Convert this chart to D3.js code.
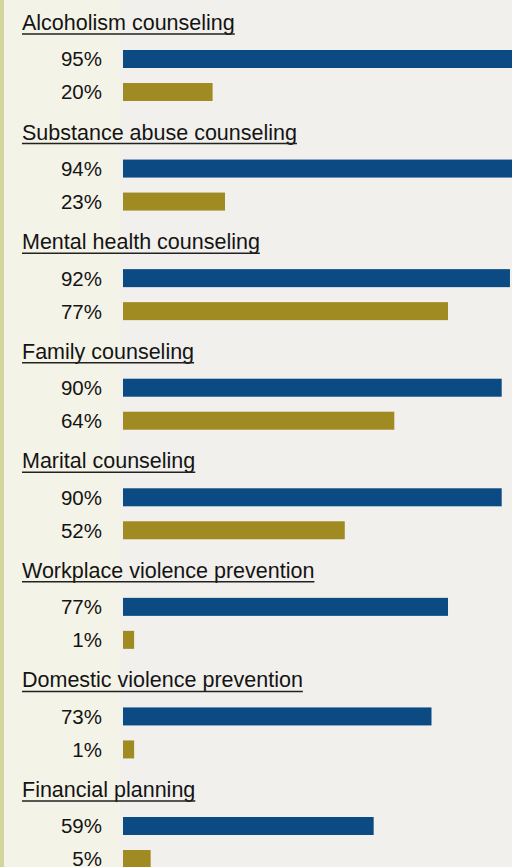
<!DOCTYPE html>
<html>
<head>
<meta charset="utf-8">
<script src="https://cdn.jsdelivr.net/npm/d3@7"></script>
<style>
  body { margin: 0; background: #f1f0ec; }
  svg { display: block; }
</style>
</head>
<body>
<script>
//the data
var categories = ['Alcoholism counseling', 'Substance abuse counseling', 'Mental health counseling', 'Family counseling',
    'Marital counseling', 'Workplace violence prevention', 'Domestic violence prevention', 'Financial planning'];
var blueValues = [95, 94, 92, 90, 90, 77, 73, 59];
var goldValues = [20, 23, 77, 64, 52, 1, 1, 5];

//set base val variables for later use
var width = 512,
    height = 867;

var barHeight = 18,
    barGap = 33,      //offset from the blue bar top to the gold bar top
    stub = 7;         //bars start a little left of the zero point

var x = d3.scaleLinear().domain([0, 100]).range([130, 543]);
var y = d3.scaleLinear().domain([0, categories.length - 1]).range([50, 817]);

var svg = d3.select("body").append("svg")
    .attr("width", width)
    .attr("height", height);

// paper background + the yellowish strip on the left edge
svg.append("rect")
    .attr("width", width)
    .attr("height", height)
    .attr("fill", "#f1f0ec");

svg.append("rect")
    .attr("width", 120)
    .attr("height", height)
    .attr("fill", "#f4f3e7");

svg.append("rect")
    .attr("width", 4)
    .attr("height", height)
    .attr("fill", "#d3d69c");

var groups = svg.selectAll("g.group")
    .data(categories)
    .enter().append("g")
    .attr("class", "group")
    .attr("transform", function (d, i) { return "translate(0," + y(i) + ")"; });

// titles with underline
groups.append("text")
    .attr("class", "title")
    .attr("x", 22)
    .attr("y", -20)
    .attr("font-family", "Liberation Sans, Arial, sans-serif")
    .attr("font-size", 21.5)
    .attr("fill", "#141414")
    .text(function (d) { return d; });

groups.each(function () {
    var g = d3.select(this);
    var len = g.select("text.title").node().getComputedTextLength();
    g.append("line")
        .attr("x1", 22)
        .attr("x2", 22 + len)
        .attr("y1", -16)
        .attr("y2", -16)
        .attr("stroke", "#222")
        .attr("stroke-width", 1.5);
});

// blue bars
groups.append("rect")
    .attr("x", x(0) - stub)
    .attr("y", 0)
    .attr("height", barHeight)
    .attr("width", function (d, i) { return x(blueValues[i]) - x(0) + stub; })
    .attr("fill", "#0b4a82");

// gold bars
groups.append("rect")
    .attr("x", x(0) - stub)
    .attr("y", barGap)
    .attr("height", barHeight)
    .attr("width", function (d, i) { return x(goldValues[i]) - x(0) + stub; })
    .attr("fill", "#9f8b22");

// percent labels
groups.append("text")
    .attr("x", 102)
    .attr("y", barHeight / 2)
    .attr("dy", "0.36em")
    .attr("text-anchor", "end")
    .attr("font-family", "Liberation Sans, Arial, sans-serif")
    .attr("font-size", 20.5)
    .attr("fill", "#141414")
    .text(function (d, i) { return blueValues[i] + "%"; });

groups.append("text")
    .attr("x", 102)
    .attr("y", barGap + barHeight / 2)
    .attr("dy", "0.36em")
    .attr("text-anchor", "end")
    .attr("font-family", "Liberation Sans, Arial, sans-serif")
    .attr("font-size", 20.5)
    .attr("fill", "#141414")
    .text(function (d, i) { return goldValues[i] + "%"; });
</script>
</body>
</html>
